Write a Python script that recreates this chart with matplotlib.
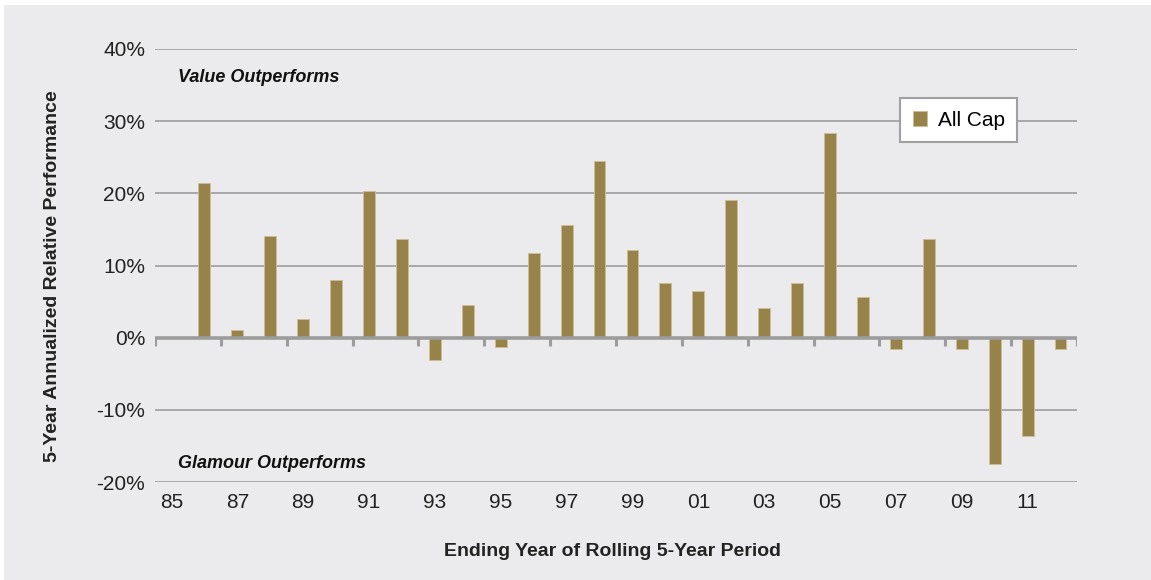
import numpy as np
import matplotlib.pyplot as plt
from matplotlib.patches import Rectangle

# ending year of rolling 5-year period (85 has no bar)
years = ['85', '86', '87', '88', '89', '90', '91', '92', '93', '94', '95', '96', '97', '98',
         '99', '00', '01', '02', '03', '04', '05', '06', '07', '08', '09', '10', '11', '12']
all_cap = [np.nan, 21.4, 1.0, 14.1, 2.6, 8.0, 20.3, 13.7, -3.1, 4.5, -1.3, 11.8, 15.6, 24.5,
           12.1, 7.6, 6.4, 19.1, 4.1, 7.6, 28.4, 5.6, -1.6, 13.7, -1.6, -17.5, -13.6, -1.6]
y_ticks = [-20, -10, 0, 10, 20, 30, 40]

bg = '#ebebed'
bar_col = '#978249'
grid_col = '#a8a8a8'

plt.rcParams['font.family'] = ['Liberation Sans', 'DejaVu Sans']

fig = plt.figure(figsize=(11.51, 5.80), dpi=100)
fig.patch.set_facecolor('white')
fig.patches.append(Rectangle((4 / 1151, 0), 1, 575 / 580, transform=fig.transFigure,
                             facecolor=bg, edgecolor='none', zorder=-10))

ax = fig.add_axes([155 / 1151, 98 / 580, 922 / 1151, 433 / 580])
ax.set_facecolor(bg)

x = np.arange(len(years))
ax.bar(x, all_cap, width=0.36, color=bar_col, edgecolor='#cbbd94', linewidth=0.7,
       label='All Cap', zorder=3)

ax.set_xlim(-0.5, len(years) - 0.5)
ax.set_ylim(-20, 40)
ax.set_yticks(y_ticks)
ax.set_yticklabels([f'{v}%' for v in y_ticks])
for v in y_ticks:
    ax.axhline(v, color=grid_col, lw=1.4, zorder=1)

# zero line, with ticks at every second category boundary
ax.axhline(0, color='#9c9c9c', lw=2.6, zorder=4)
bounds = np.arange(-0.5, len(years), 2)
ax.vlines(bounds, -1.1, 0, color='#9c9c9c', lw=2.2, zorder=4)

ax.set_xticks(x[::2])
ax.set_xticklabels(years[::2])
ax.tick_params(axis='x', length=0, pad=8, labelsize=15, labelcolor='#222222')
ax.tick_params(axis='y', length=0, pad=7, labelsize=15, labelcolor='#222222')
for s in ax.spines.values():
    s.set_visible(False)

fig.text(178 / 1151, 1 - 77 / 580, 'Value Outperforms', fontsize=13, fontweight='bold',
         fontstyle='italic', va='center', ha='left', color='#111111')
fig.text(178 / 1151, 1 - 463 / 580, 'Glamour Outperforms', fontsize=13, fontweight='bold',
         fontstyle='italic', va='center', ha='left', color='#111111')

fig.text(613 / 1151, 1 - 552 / 580, 'Ending Year of Rolling 5-Year Period', fontsize=14,
         fontweight='bold', ha='center', va='center', color='#222222')
fig.text(53 / 1151, 1 - 276 / 580, '5-Year Annualized Relative Performance', fontsize=14,
         fontweight='bold', rotation=90, ha='center', va='center', color='#222222')

leg = ax.legend(loc='upper right', bbox_to_anchor=(1017 / 1151, 1 - 98 / 580),
                bbox_transform=fig.transFigure, fancybox=False, framealpha=1,
                borderaxespad=0, handlelength=0.7, handleheight=0.7, handletextpad=0.5,
                borderpad=0.6, fontsize=15)
leg.get_frame().set_edgecolor('#a0a0a0')
leg.get_frame().set_linewidth(1.5)

fig.savefig('out.png', dpi=100, facecolor=fig.get_facecolor())
